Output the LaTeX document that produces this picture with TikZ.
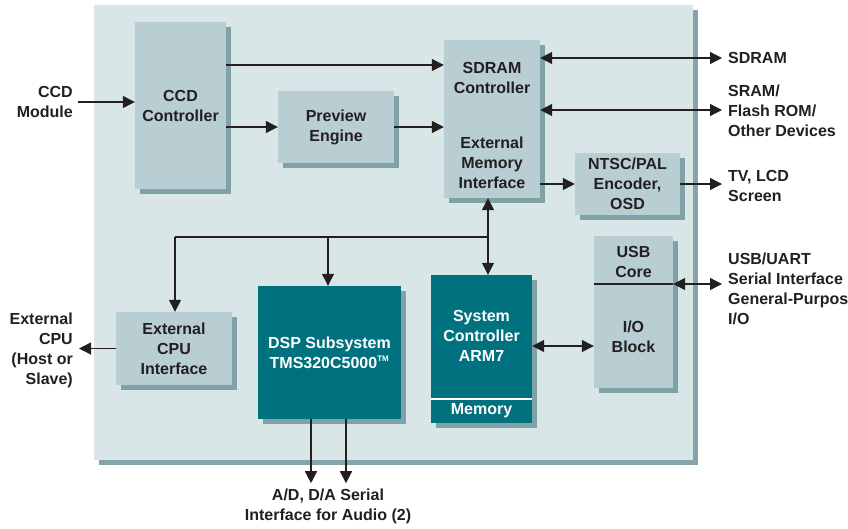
\documentclass[tikz,border=0pt]{standalone}
\usepackage{fontspec}
\setmainfont{Liberation Sans}
\usetikzlibrary{arrows.meta,shadows}
\definecolor{panelc}{HTML}{D9E6E8}
\definecolor{panelsh}{HTML}{84A6AB}
\definecolor{boxc}{HTML}{B8CED2}
\definecolor{boxsh}{HTML}{7FA2A7}
\definecolor{tealc}{HTML}{00717F}
\definecolor{inkc}{HTML}{231F20}

\begin{document}
\begin{tikzpicture}[x=1pt,y=-1pt,
  every node/.style={font=\bfseries\fontsize{16}{20}\selectfont, text=inkc, align=center, inner sep=0pt},
  lbox/.style={fill=boxc, drop shadow={shadow xshift=5pt,shadow yshift=-5pt,fill=boxsh,opacity=1}},
  dbox/.style={lbox, fill=tealc, text=white},
  arr/.style={draw=inkc, line width=1.3pt, -{Triangle[length=12pt,width=12pt]}},
  dbl/.style={arr, {Triangle[length=12pt,width=12pt]}-{Triangle[length=12pt,width=12pt]}},
]
\useasboundingbox (0,0) rectangle (848,528);
\fill[panelsh] (99,10) rectangle (698,465);
\fill[panelc] (94,5) rectangle (693,460);

\node[lbox, minimum width=91pt, minimum height=167pt] (ccd) at (180.5,105.5) {CCD\\Controller};
\node[lbox, minimum width=116pt, minimum height=72pt] (prev) at (336,127) {Preview\\Engine};
\node[lbox, minimum width=96pt, minimum height=158pt] (emi) at (492,119) {};
\node (emitop) at (492,78) {SDRAM\\Controller};
\node (emibot) at (492,163) {External\\Memory\\Interface};
\node[lbox, minimum width=105pt, minimum height=62pt] (ntsc) at (627.5,184) {NTSC/PAL\\Encoder,\\OSD};
\node[lbox, minimum width=116pt, minimum height=73pt] (ecpu) at (174,348.5) {External\\CPU\\Interface};
\node[dbox, minimum width=143pt, minimum height=133pt] (dsp) at (329.5,352.5) {DSP Subsystem\\TMS320C5000\textsuperscript{\fontsize{8}{8}\selectfont TM}};
\node[dbox, minimum width=101pt, minimum height=148pt] (arm) at (481.5,349) {};
\node[text=white] (armtxt) at (481.5,336) {System\\Controller\\ARM7};
\node[text=white] (armmem) at (481.5,411) {Memory};
\draw[white, line width=1.2pt] (arm.west |- 0,399) -- (arm.east |- 0,399);
\node[lbox, minimum width=79pt, minimum height=152pt] (io) at (633.5,312) {};
\node (usb) at (633.5,261.5) {USB\\Core};
\node (iob) at (633.5,337) {I/O\\Block};

\node[anchor=east, align=right] (ccdmod) at (73,102) {CCD\\Module};
\node[anchor=east, align=right] (extcpu) at (73,350) {External\\CPU\\(Host or\\Slave)};
\node[anchor=west, align=left] (sdram) at (728,58) {SDRAM};
\node[anchor=west, align=left] (sram) at (728,111) {SRAM/\\Flash ROM/\\Other Devices};
\node[anchor=west, align=left] (tv) at (728,186) {TV, LCD\\Screen};
\node[anchor=west, align=left] (uart) at (728,289) {USB/UART\\Serial Interface\\General-Purpos\\I/O};
\node (audio) at (328,506) {A/D, D/A Serial\\Interface for Audio (2)};

\draw[arr] ([xshift=5pt]ccdmod.east) -- (ccd.west |- ccdmod.east);
\draw[arr] (ccd.east |- 0,65) -- (emi.west |- 0,65);
\draw[arr] (ccd.east |- prev.west) -- (prev.west);
\draw[arr] (prev.east) -- (emi.west |- prev.east);
\draw[dbl] (emi.east |- sdram.west) -- ([xshift=-6pt]sdram.west);
\draw[dbl] (emi.east |- 0,110) -- ([xshift=-6pt]sram.west |- 0,110);
\draw[arr] (emi.east |- ntsc.west) -- (ntsc.west);
\draw[arr] (ntsc.east) -- ([xshift=-6pt]tv.west |- ntsc.east);

\coordinate (bus) at (488,237);
\coordinate (busw) at (175,237);
\draw[arr] (bus) -- (emi.south -| bus);
\draw[arr] (bus) -- (arm.north -| bus);
\draw[line width=1.3pt, draw=inkc] (bus) -- (busw);
\draw[arr] (busw) -- (ecpu.north -| busw);
\draw[arr] (bus -| 328,0) -- (dsp.north -| 328,0);
\draw[arr] (ecpu.west) -- ([xshift=6pt]extcpu.east |- ecpu.west);
\draw[arr] ([xshift=-18.5pt]dsp.south) -- ++(0,64);
\draw[arr] ([xshift=16.5pt]dsp.south) -- ++(0,64);

\draw[dbl] (arm.east |- 0,346) -- (io.west |- 0,346);
\draw[line width=1.3pt, draw=inkc] (io.west |- 0,284) -- (io.east |- 0,284);
\draw[dbl] (io.east |- 0,284) -- ([xshift=-6pt]uart.west |- 0,284);
\end{tikzpicture}
\end{document}
